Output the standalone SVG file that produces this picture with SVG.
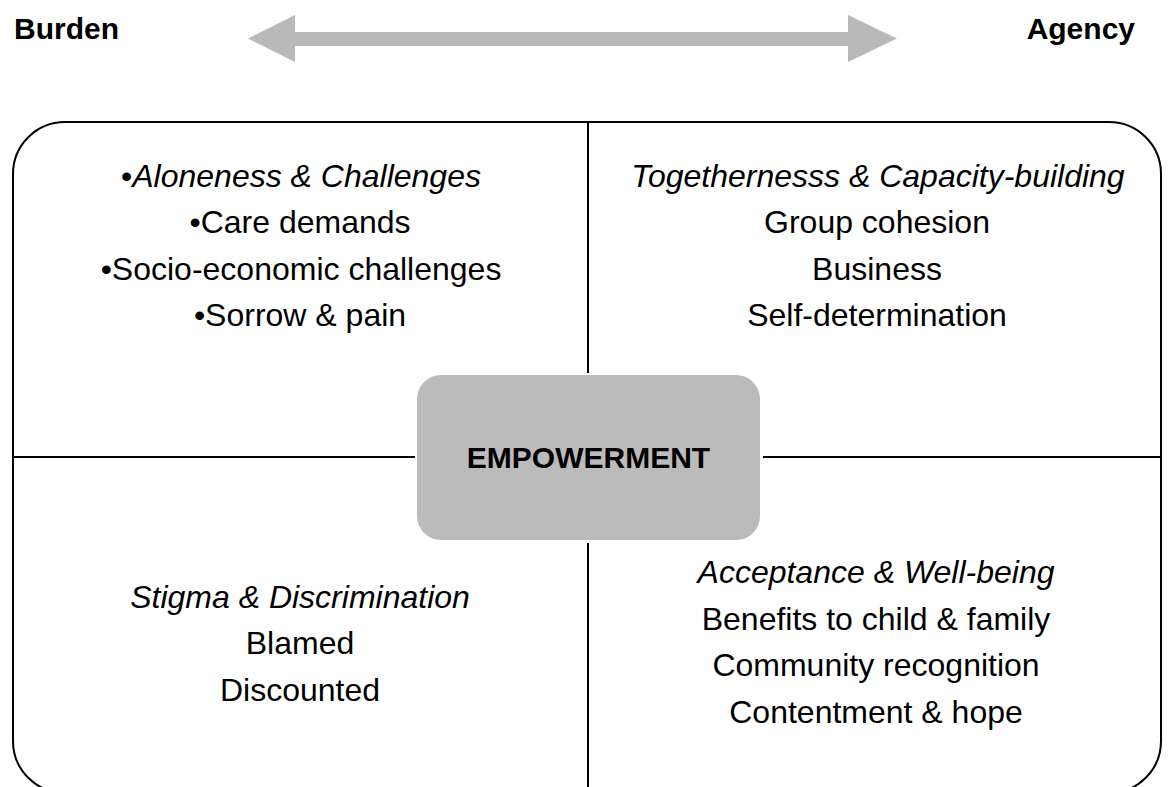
<svg xmlns="http://www.w3.org/2000/svg" width="1168" height="787" viewBox="0 0 1168 787">
  <style>
    .t { font-family: "Liberation Sans", Arial, sans-serif; font-size: 32px; fill: #000; text-anchor: middle; }
    .i { font-style: italic; }
    .h { font-family: "Liberation Sans", Arial, sans-serif; font-size: 30px; font-weight: bold; fill: #000; }
    .line { stroke: #000; stroke-width: 2; fill: none; }
  </style>
  <rect width="1168" height="787" fill="#fff"/>

  <!-- spectrum axis -->
  <g id="axis">
    <text class="h" x="14" y="39" font-size="31">Burden</text>
    <text class="h" x="1135" y="39" text-anchor="end">Agency</text>
    <polygon points="248,38.5 295,15 295,32 848,32 848,15 897,38.5 848,62 848,46 295,46 295,62" fill="#b9b9b9"/>
  </g>

  <!-- frame (runs past the lower edge) and quadrant dividers -->
  <g id="connectors">
    <rect class="line" x="13" y="122" width="1148" height="671" rx="52" ry="52"/>
    <line class="line" x1="588" y1="122" x2="588" y2="373"/>
    <line class="line" x1="588" y1="543" x2="588" y2="787"/>
    <line class="line" x1="13" y1="457" x2="415" y2="457"/>
    <line class="line" x1="763" y1="457" x2="1161" y2="457"/>
  </g>

  <g id="burden-top">
    <text class="t" x="301" y="187">•<tspan class="i">Aloneness &amp; Challenges</tspan></text>
    <text class="t" x="300" y="233">•Care demands</text>
    <text class="t" x="301" y="280">•Socio-economic challenges</text>
    <text class="t" x="300" y="326">•Sorrow &amp; pain</text>
  </g>

  <g id="agency-top">
    <text class="t i" x="878" y="187">Togethernesss &amp; Capacity-building</text>
    <text class="t" x="877" y="233">Group cohesion</text>
    <text class="t" x="877" y="280">Business</text>
    <text class="t" x="877" y="326">Self-determination</text>
  </g>

  <g id="burden-bottom">
    <text class="t i" x="300" y="608">Stigma &amp; Discrimination</text>
    <text class="t" x="300" y="654">Blamed</text>
    <text class="t" x="300" y="701">Discounted</text>
  </g>

  <g id="agency-bottom">
    <text class="t i" x="876" y="583">Acceptance &amp; Well-being</text>
    <text class="t" x="876" y="630">Benefits to child &amp; family</text>
    <text class="t" x="876" y="676">Community recognition</text>
    <text class="t" x="876" y="723">Contentment &amp; hope</text>
  </g>

  <g id="empowerment">
    <rect x="417" y="375" width="343" height="165" rx="24" ry="24" fill="#bbbbbb"/>
    <text class="h" x="588.5" y="468" text-anchor="middle" font-size="32">EMPOWERMENT</text>
  </g>
</svg>
